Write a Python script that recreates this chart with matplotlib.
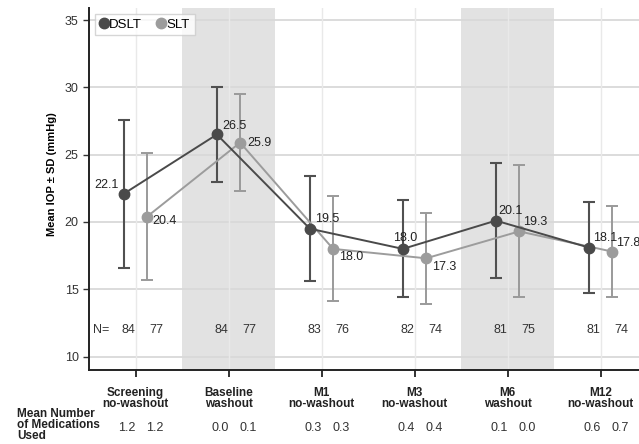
import matplotlib
matplotlib.use('Agg')
import matplotlib.pyplot as plt
from matplotlib.transforms import blended_transform_factory
import numpy as np

plt.rcParams['font.family'] = ['Liberation Sans', 'DejaVu Sans']

# Data
visits = ['Screening\nno-washout', 'Baseline\nwashout', 'M1\nno-washout',
          'M3\nno-washout', 'M6\nwashout', 'M12\nno-washout']
washout_idx = [1, 4]

dslt_mean = [22.1, 26.5, 19.5, 18.0, 20.1, 18.1]
dslt_sd = [5.5, 3.5, 3.9, 3.6, 4.3, 3.4]
slt_mean = [20.4, 25.9, 18.0, 17.3, 19.3, 17.8]
slt_sd = [4.7, 3.6, 3.9, 3.4, 4.9, 3.4]

dslt_n = [84, 84, 83, 82, 81, 81]
slt_n = [77, 77, 76, 74, 75, 74]

dslt_meds = ['1.2', '0.0', '0.3', '0.4', '0.1', '0.6']
slt_meds = ['1.2', '0.1', '0.3', '0.4', '0.0', '0.7']

# label offsets in points (dx, dy, ha)
dslt_lab = [(-4, 6, 'right'), (4, 6, 'left'), (4, 7, 'left'),
            (2, 8, 'center'), (2, 7, 'left'), (3, 7, 'left')]
slt_lab = [(4, -3, 'left'), (5, 0, 'left'), (4, -6, 'left'),
           (4, -6, 'left'), (3, 7, 'left'), (3, 6, 'left')]

c_dslt = '#4a4a4a'
c_slt = '#9c9c9c'

fig = plt.figure(figsize=(6.39, 4.44), dpi=100)
ax = fig.add_axes([89 / 639, 74 / 444, 558 / 639, 362 / 444])

x = np.arange(len(visits))
off = 0.125

for i in washout_idx:
    ax.axvspan(i - 0.5, i + 0.5, color='#e2e2e2', zorder=0, lw=0)

for yv in [10, 15, 20, 25, 30, 35]:
    ax.axhline(yv, color='#d9d9d9', lw=1.3, zorder=0.5)
for xv in x:
    ax.axvline(xv, color='#e9e9e9', lw=1.0, zorder=0.5)

ax.errorbar(x - off, dslt_mean, yerr=dslt_sd, fmt='none', ecolor='#505050',
            elinewidth=1.5, capsize=4.5, capthick=1.5, zorder=2)
ax.errorbar(x + off, slt_mean, yerr=slt_sd, fmt='none', ecolor='#9a9a9a',
            elinewidth=1.4, capsize=4.5, capthick=1.4, zorder=2)
ax.plot(x - off, dslt_mean, '-o', color=c_dslt, lw=1.4, ms=7.5, zorder=4,
        label='DSLT')
ax.plot(x + off, slt_mean, '-o', color=c_slt, lw=1.4, ms=7.5, zorder=3,
        label='SLT')

for i in range(len(x)):
    dx, dy, ha = dslt_lab[i]
    ax.annotate(f'{dslt_mean[i]:.1f}', (x[i] - off, dslt_mean[i]),
                xytext=(dx, dy), textcoords='offset points', ha=ha,
                va='center', fontsize=9, color='#222222', zorder=5)
    dx, dy, ha = slt_lab[i]
    ax.annotate(f'{slt_mean[i]:.1f}', (x[i] + off, slt_mean[i]),
                xytext=(dx, dy), textcoords='offset points', ha=ha,
                va='center', fontsize=9, color='#222222', zorder=5)

# N row
ax.text(-0.37, 12.0, 'N=', ha='center', va='center', fontsize=9,
        color='#333333')
for i in range(len(x)):
    ax.text(x[i] - 0.08, 12.0, str(dslt_n[i]), ha='center', va='center',
            fontsize=9, color='#333333')
    ax.text(x[i] + 0.22, 12.0, str(slt_n[i]), ha='center', va='center',
            fontsize=9, color='#333333')

ax.set_xlim(-0.5, 5.5)
ax.set_ylim(9.0, 35.9)
ax.set_yticks([10, 15, 20, 25, 30, 35])
ax.set_xticks(x)
ax.set_xticklabels(visits, fontweight='bold', fontsize=8.5,
                   linespacing=0.95)
ax.tick_params(axis='x', length=5, width=1.3, pad=7, colors='#222222')
ax.tick_params(axis='y', length=4, width=1.0, labelsize=9,
               colors='#333333')
for s in ['top', 'right']:
    ax.spines[s].set_visible(False)
for s in ['left', 'bottom']:
    ax.spines[s].set_linewidth(1.4)
    ax.spines[s].set_color('#222222')

ax.set_ylabel('Mean IOP \u00b1 SD (mmHg)', fontweight='bold', fontsize=8,
              labelpad=14)
ax.yaxis.set_label_coords(-0.058, 0.54)

leg = ax.legend(loc='upper left', ncol=2, frameon=True, fontsize=9.5,
                handlelength=0.6, handletextpad=0.1, columnspacing=1.2,
                borderpad=0.35, borderaxespad=0.45, fancybox=False)
for h in leg.legend_handles:
    h.set_linestyle('none')
leg.get_frame().set_edgecolor('#cccccc')
leg.get_frame().set_linewidth(1.0)

# medications row
trans = blended_transform_factory(ax.transData, fig.transFigure)
fig.text(17 / 639, (444 - 425) / 444, 'Mean Number\nof Medications\nUsed',
         ha='left', va='center', fontsize=8.5, fontweight='bold',
         linespacing=0.92, color='#222222')
yrow = (444 - 428) / 444
for i in range(len(x)):
    ax.text(x[i] - 0.09, yrow, dslt_meds[i], transform=trans, ha='center',
            va='center', fontsize=9, color='#333333')
    ax.text(x[i] + 0.21, yrow, slt_meds[i], transform=trans, ha='center',
            va='center', fontsize=9, color='#333333')

fig.savefig('out.png', dpi=100)
